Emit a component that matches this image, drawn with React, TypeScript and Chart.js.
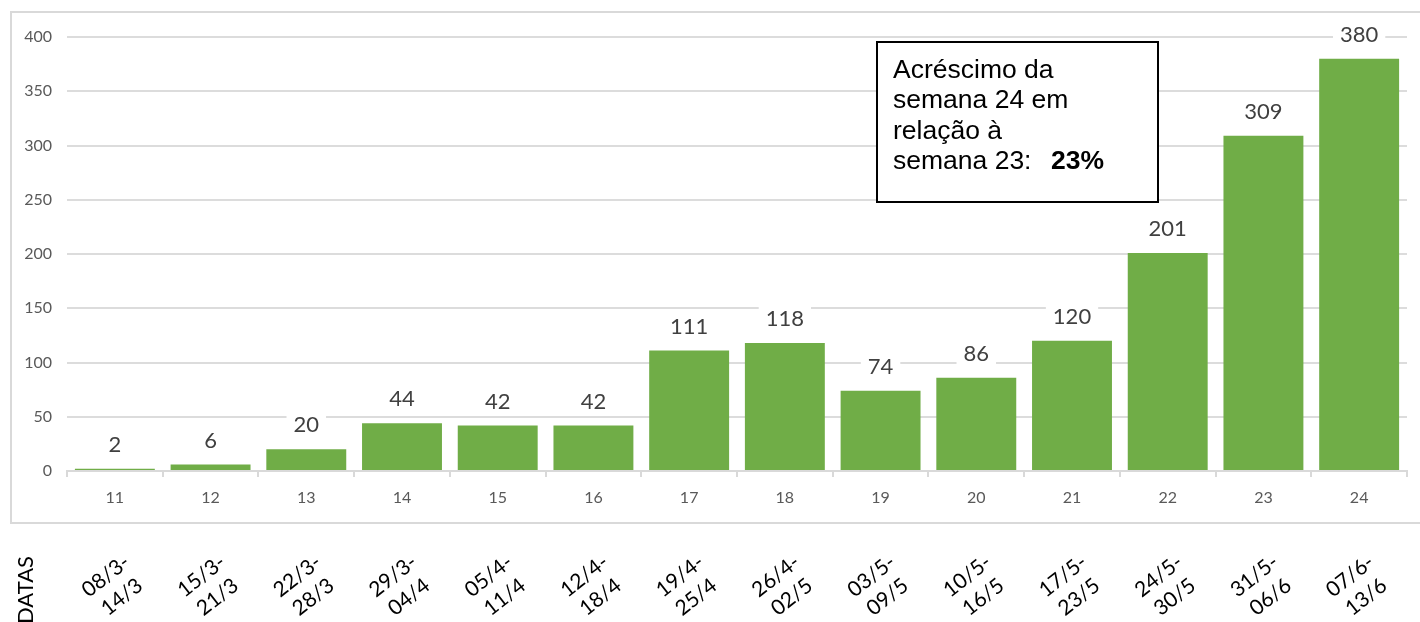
import React, { useEffect, useRef } from "react";
import { Chart, registerables } from "chart.js";

Chart.register(...registerables);

const weeks = ["11", "12", "13", "14", "15", "16", "17", "18", "19", "20", "21", "22", "23", "24"];
const cases = [2, 6, 20, 44, 42, 42, 111, 118, 74, 86, 120, 201, 309, 380];
const dateStart = ["08/3-", "15/3-", "22/3-", "29/3-", "05/4-", "12/4-", "19/4-", "26/4-", "03/5-", "10/5-", "17/5-", "24/5-", "31/5-", "07/6-"];
const dateEnd = ["14/3", "21/3", "28/3", "04/4", "11/4", "18/4", "25/4", "02/5", "09/5", "16/5", "23/5", "30/5", "06/6", "13/6"];
const yTicks = [0, 50, 100, 150, 200, 250, 300, 350, 400];
const axisTitle = "DATAS";
const noteLines = ["Acréscimo da", "semana 24 em", "relação à", "semana 23:"];
const noteValue = "23%";

const FONT = "Lato, 'Open Sans', sans-serif";

const overlayPlugin = {
  id: "overlay",
  afterDatasetsDraw(chart: any) {
    const ctx = chart.ctx;
    const meta = chart.getDatasetMeta(0);
    ctx.save();
    ctx.font = `22px ${FONT}`;
    ctx.textAlign = "center";
    ctx.textBaseline = "middle";
    meta.data.forEach((bar: any, i: number) => {
      const txt = String(cases[i]);
      const w = ctx.measureText(txt).width + 14;
      const cy = bar.y - 25;
      ctx.fillStyle = "#ffffff";
      ctx.fillRect(bar.x - w / 2, cy - 12, w, 24);
      ctx.fillStyle = "#404040";
      ctx.fillText(txt, bar.x, cy + 1);
    });
    ctx.restore();
  },
  afterDraw(chart: any) {
    const ctx = chart.ctx;
    const xScale = chart.scales.x;
    ctx.save();
    // outer frame
    ctx.strokeStyle = "#d9d9d9";
    ctx.lineWidth = 2;
    ctx.strokeRect(11, 12, 1412, 511);

    // annotation box
    ctx.fillStyle = "#ffffff";
    ctx.fillRect(877, 42, 281, 160);
    ctx.strokeStyle = "#000000";
    ctx.lineWidth = 2;
    ctx.strokeRect(877, 42, 281, 160);
    ctx.fillStyle = "#000000";
    ctx.textAlign = "left";
    ctx.textBaseline = "alphabetic";
    ctx.font = "26.5px 'Liberation Sans', Arial, sans-serif";
    noteLines.forEach((l, i) => {
      ctx.fillText(l, 893, 78 + i * 30.3);
    });
    ctx.font = "bold 26.5px 'Liberation Sans', Arial, sans-serif";
    ctx.fillText(noteValue, 1051, 169);

    // date labels
    ctx.font = `21px ${FONT}`;
    ctx.textAlign = "center";
    ctx.textBaseline = "middle";
    const ang = (-38 * Math.PI) / 180;
    weeks.forEach((_, i) => {
      const cx = xScale.getPixelForValue(i) - 1;
      const cy = 586;
      const parts: [string, number, number][] = [
        [dateStart[i], -8, -10],
        [dateEnd[i], 8, 11],
      ];
      parts.forEach(([t, dx, dy]) => {
        ctx.save();
        ctx.translate(cx + dx, cy + dy);
        ctx.rotate(ang);
        ctx.fillText(t, 0, 0);
        ctx.restore();
      });
    });

    // DATAS
    ctx.save();
    ctx.translate(26, 590);
    ctx.rotate(-Math.PI / 2);
    ctx.font = `22px ${FONT}`;
    ctx.fillText(axisTitle, 0, 0);
    ctx.restore();

    ctx.restore();
  },
};

export default function App() {
  const ref = useRef<HTMLCanvasElement>(null);
  useEffect(() => {
    if (!ref.current) return;
    const chart = new Chart(ref.current, {
      type: "bar",
      data: {
        labels: weeks,
        datasets: [
          {
            data: cases,
            backgroundColor: "#70AD47",
            borderWidth: 0,
            barPercentage: 0.835,
            categoryPercentage: 1,
          },
        ],
      },
      options: {
        responsive: false,
        maintainAspectRatio: false,
        animation: false,
        layout: { padding: { left: 0, right: 13, top: 37, bottom: 111 } },
        plugins: {
          legend: { display: false },
          tooltip: { enabled: false },
        },
        scales: {
          x: {
            afterFit(scale: any) {
              scale.height = 40;
            },
            grid: {
              offset: true,
              drawOnChartArea: false,
              drawTicks: true,
              tickLength: 6,
              color: "#d9d9d9",
              lineWidth: 2,
            },
            border: { display: true, color: "#d9d9d9", width: 2 },
            ticks: {
              color: "#595959",
              font: { family: FONT, size: 16 },
              padding: 11,
              maxRotation: 0,
            },
          },
          y: {
            min: 0,
            max: 400,
            afterFit(scale: any) {
              scale.width = 67;
            },
            afterBuildTicks(scale: any) {
              scale.ticks = yTicks.map((v) => ({ value: v }));
            },
            grid: {
              color: "#dcdcdc",
              lineWidth: 2,
              drawTicks: false,
            },
            border: { display: false },
            ticks: {
              color: "#595959",
              font: { family: FONT, size: 16 },
              padding: 15,
            },
          },
        },
      },
      plugins: [overlayPlugin],
    });
    return () => chart.destroy();
  }, []);
  return (
    <div style={{ position: "absolute", left: 0, top: 0, width: 1420, height: 622, background: "#fff" }}>
      <canvas ref={ref} width={1420} height={622} style={{ display: "block" }} />
    </div>
  );
}
